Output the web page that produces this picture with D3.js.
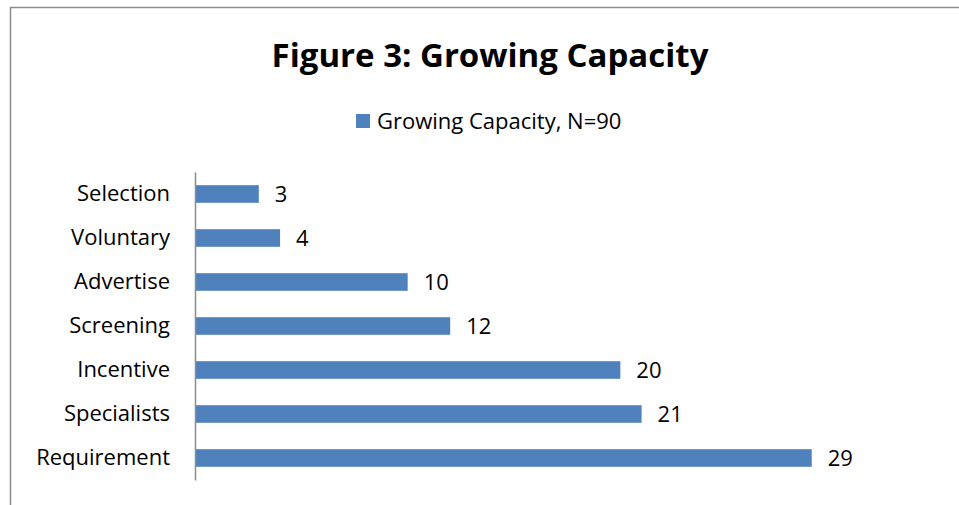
<!DOCTYPE html>
<html lang="en">
<head>
<meta charset="UTF-8">
<title>Figure 3: Growing Capacity</title>
<style>
    body { margin: 0; background: #fff; }
    .chart text { font-family: "Open Sans", "Liberation Sans", sans-serif; fill: #000; }
</style>
</head>
<body>
<svg class="chart"></svg>
<script src="https://d3js.org/d3.v7.min.js"></script>
<script>

var categories = ["Selection", "Voluntary", "Advertise", "Screening", "Incentive", "Specialists", "Requirement"];
var values = [3, 4, 10, 12, 20, 21, 29];
var seriesName = "Growing Capacity, N=90";

var width = 959,
    height = 505;

var svg = d3.select(".chart")
    .attr("width", width)
    .attr("height", height);

// chart area border (right and bottom run off the page)
svg.append("rect")
    .attr("x", 10.5)
    .attr("y", 7.5)
    .attr("width", 980)
    .attr("height", 520)
    .attr("fill", "none")
    .attr("stroke", "#8c8c8c")
    .attr("stroke-width", 1.5);

svg.append("text")
    .attr("x", 490)
    .attr("y", 67)
    .attr("text-anchor", "middle")
    .style("font-size", "33px")
    .style("font-weight", "bold")
    .text("Figure 3: Growing Capacity");

// legend
svg.append("rect")
    .attr("x", 356)
    .attr("y", 114)
    .attr("width", 14)
    .attr("height", 14)
    .attr("fill", "#4f81bd");

svg.append("text")
    .attr("x", 377)
    .attr("y", 129)
    .style("font-size", "22px")
    .text(seriesName);

var x = d3.scaleLinear()
    .domain([0, 30])
    .range([195, 833]);

var y = d3.scaleBand()
    .domain(categories)
    .range([172, 480])
    .paddingInner(0.6)
    .paddingOuter(0.3);

svg.selectAll(".bar")
    .data(values)
    .enter().append("rect")
    .attr("class", "bar")
    .attr("x", x(0))
    .attr("y", function(d, i) { return y(categories[i]); })
    .attr("width", function(d) { return x(d) - x(0); })
    .attr("height", y.bandwidth())
    .attr("fill", "#4f81bd");

svg.selectAll(".val")
    .data(values)
    .enter().append("text")
    .attr("class", "val")
    .attr("x", function(d) { return x(d) + 16; })
    .attr("y", function(d, i) { return y(categories[i]) + y.bandwidth() / 2; })
    .attr("dy", ".35em")
    .style("font-size", "22px")
    .text(function(d) { return d; });

var yAxis = svg.append("g")
    .attr("transform", "translate(" + x(0) + ",0)")
    .call(d3.axisLeft(y).tickSize(0).tickPadding(25));

yAxis.select(".domain").attr("stroke", "#8c8c8c").attr("stroke-width", 1.5);
yAxis.selectAll("text")
    .style("font-family", "\"Open Sans\", \"Liberation Sans\", sans-serif")
    .style("font-size", "22px")
    .attr("fill", "#000");

</script>
</body>
</html>
